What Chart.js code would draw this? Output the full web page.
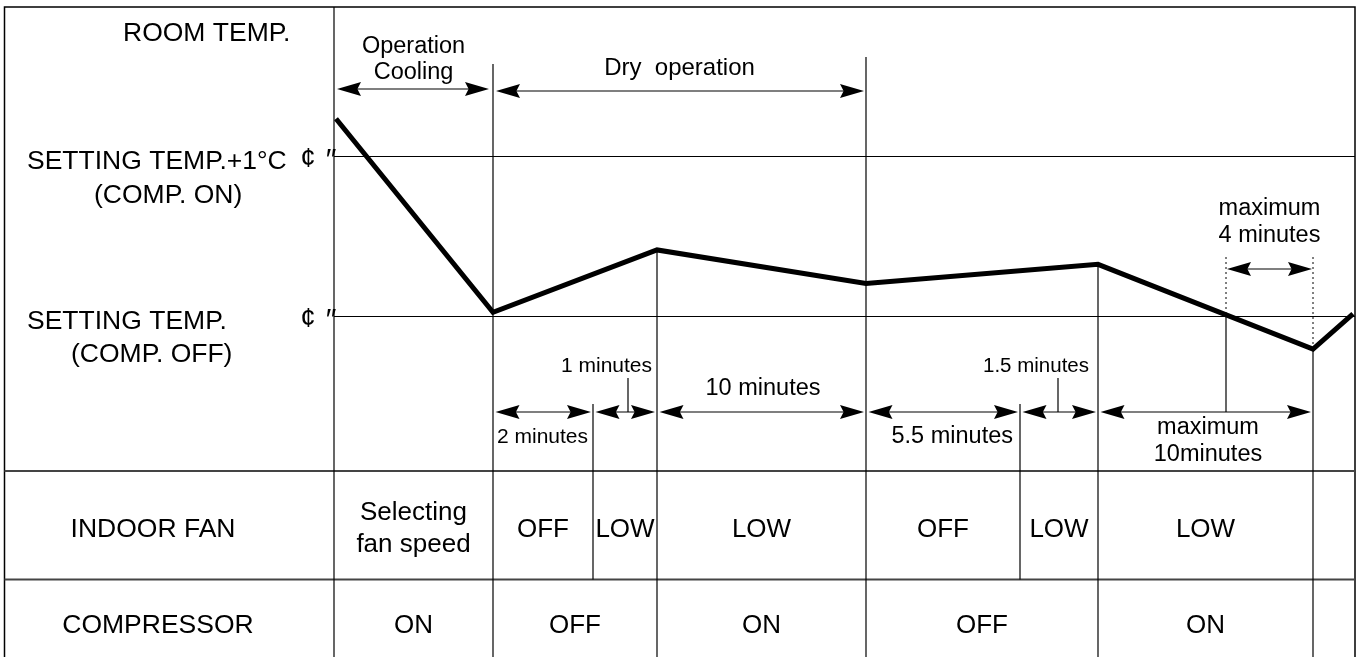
<!DOCTYPE html>
<html>
<head>
<meta charset="utf-8">
<title>Dry operation</title>
<script src="https://cdn.jsdelivr.net/npm/chart.js@4"></script>
<style>
  body { margin: 0; background: #fff; }
  canvas { display: block; }
</style>
</head>
<body>
<canvas id="myChart" width="1362" height="657"></canvas>
<script>
// time runs along x in diagram units (the drawing is not to scale),
// room temperature is in °C above the setting temperature
var tempTime = [33.6, 49.3, 65.7, 86.6, 109.8, 131.3, 135.3];
var roomTemp = [1.23, 0.02, 0.41, 0.20, 0.32, -0.21, 0.01];

var levelTemps = [1, 0];
var levelLabels = [['SETTING TEMP.+1°C', '(COMP. ON)'], ['SETTING TEMP.', '(COMP. OFF)']];

var phaseEdges = [33.4, 49.3, 86.6];
var phaseLabels = [['Operation', 'Cooling'], ['Dry  operation']];

var durEdges = [49.3, 59.3, 65.7, 86.6, 102.0, 109.8, 131.3];
var durLabels = ['2 minutes', '1 minutes', '10 minutes', '5.5 minutes', '1.5 minutes', ['maximum', '10minutes']];

var limitEdges = [122.6, 131.3];
var limitLabel = ['maximum', '4 minutes'];

var rowLabels = ['INDOOR FAN', 'COMPRESSOR'];
var fanEdges = [33.4, 49.3, 59.3, 65.7, 86.6, 102.0, 109.8, 131.3];
var fanLabels = [['Selecting', 'fan speed'], 'OFF', 'LOW', 'LOW', 'OFF', 'LOW', 'LOW'];
var compEdges = [33.4, 49.3, 65.7, 86.6, 109.8, 131.3];
var compLabels = ['ON', 'OFF', 'ON', 'OFF', 'ON'];

var xEnd = 135.5;

var points = [];
for (let i = 0; i < tempTime.length; i++) {
    points.push({x: tempTime[i], y: roomTemp[i]});
}

var FONT = '"Liberation Sans", Arial, sans-serif';

function text(ctx, s, x, y, size, align) {
    ctx.font = size + 'px ' + FONT;
    ctx.textAlign = align || 'center';
    ctx.textBaseline = 'alphabetic';
    ctx.fillText(s, x, y);
}

function vline(ctx, x, y1, y2) {
    ctx.beginPath();
    ctx.moveTo(x, y1);
    ctx.lineTo(x, y2);
    ctx.stroke();
}

function hline(ctx, x1, x2, y) {
    ctx.beginPath();
    ctx.moveTo(x1, y);
    ctx.lineTo(x2, y);
    ctx.stroke();
}

function head(ctx, tipX, y, dir) {
    var len = 24, half = 7;
    ctx.beginPath();
    ctx.moveTo(tipX, y);
    ctx.lineTo(tipX + dir * len, y - half);
    ctx.lineTo(tipX + dir * len * 0.85, y);
    ctx.lineTo(tipX + dir * len, y + half);
    ctx.closePath();
    ctx.fill();
}

function arrow(ctx, x1, x2, y) {
    hline(ctx, x1 + 10, x2 - 10, y);
    head(ctx, x1, y, 1);
    head(ctx, x2, y, -1);
}

var diagram = {
    id: 'diagram',
    beforeDraw: function (chart) {
        var ctx = chart.ctx;
        ctx.save();
        ctx.fillStyle = '#fff';
        ctx.fillRect(0, 0, chart.width, chart.height);
        ctx.restore();
    },
    beforeDatasetsDraw: function (chart) {
        var ctx = chart.ctx;
        var xs = chart.scales.x, ys = chart.scales.y;
        var X = function (v) { return xs.getPixelForValue(v); };
        var Y = function (v) { return ys.getPixelForValue(v); };
        var left = 4.5, top = 7, right = X(xEnd), bottom = chart.height;
        var row1 = 471, row2 = 579.5, durRow = 412;

        ctx.save();
        ctx.strokeStyle = '#000';
        ctx.fillStyle = '#000';

        // frame
        ctx.lineWidth = 1.5;
        ctx.beginPath();
        ctx.moveTo(left, bottom);
        ctx.lineTo(left, top);
        ctx.lineTo(right, top);
        ctx.lineTo(right, bottom);
        ctx.stroke();

        // temperature levels
        ctx.lineWidth = 1.2;
        for (let i = 0; i < levelTemps.length; i++) {
            hline(ctx, X(phaseEdges[0]), right, Math.round(Y(levelTemps[i])) + 0.5);
        }

        // table rows
        ctx.strokeStyle = '#444';
        ctx.lineWidth = 2;
        hline(ctx, left, right, row1);
        hline(ctx, left, right, row2);

        // phase and step borders
        ctx.strokeStyle = '#000';
        ctx.lineWidth = 1.2;
        vline(ctx, X(phaseEdges[0]), top, bottom);
        vline(ctx, X(phaseEdges[1]), 64, bottom);
        vline(ctx, X(phaseEdges[2]), 57, bottom);
        // fan-only steps
        vline(ctx, X(fanEdges[2]), 404, row2);
        vline(ctx, X(fanEdges[5]), 404, row2);
        // steps that start on the temperature curve
        vline(ctx, X(tempTime[2]), Y(roomTemp[2]), bottom);
        vline(ctx, X(tempTime[4]), Y(roomTemp[4]), bottom);
        vline(ctx, X(tempTime[5]), Y(roomTemp[5]), bottom);
        vline(ctx, X(limitEdges[0]), Y(0), durRow);

        // the 4 minute window
        ctx.setLineDash([2, 3]);
        ctx.lineWidth = 1;
        vline(ctx, X(limitEdges[0]), 257, Y(0));
        vline(ctx, X(limitEdges[1]), 257, Y(roomTemp[5]));
        ctx.setLineDash([]);
        ctx.restore();
    },
    afterDatasetsDraw: function (chart) {
        var ctx = chart.ctx;
        var xs = chart.scales.x, ys = chart.scales.y;
        var X = function (v) { return xs.getPixelForValue(v); };
        var Y = function (v) { return ys.getPixelForValue(v); };
        var durRow = 412;

        ctx.save();
        ctx.strokeStyle = '#000';
        ctx.fillStyle = '#000';
        ctx.lineWidth = 1.2;

        // left labels
        text(ctx, 'ROOM TEMP.', 123, 41, 26.5, 'left');
        text(ctx, levelLabels[0][0], 27, 169, 26.5, 'left');
        text(ctx, levelLabels[0][1], 94, 203, 26.5, 'left');
        text(ctx, levelLabels[1][0], 27, 329, 26.5, 'left');
        text(ctx, levelLabels[1][1], 71, 362, 26.5, 'left');
        for (let i = 0; i < levelTemps.length; i++) {
            var ly = Y(levelTemps[i]) + 11;
            text(ctx, '¢', 308, ly, 27, 'center');
            text(ctx, '″', 331, ly + 2, 30, 'center');
        }

        // phases
        var cx = (X(phaseEdges[0]) + X(phaseEdges[1])) / 2;
        text(ctx, phaseLabels[0][0], cx, 53, 23.5);
        text(ctx, phaseLabels[0][1], cx, 79, 23.5);
        arrow(ctx, X(phaseEdges[0]) + 3, X(phaseEdges[1]) - 4, 89);
        text(ctx, phaseLabels[1][0], (X(phaseEdges[1]) + X(phaseEdges[2])) / 2, 75, 24);
        arrow(ctx, X(phaseEdges[1]) + 3, X(phaseEdges[2]) - 2, 91);

        // step durations
        for (let i = 0; i < durLabels.length; i++) {
            arrow(ctx, X(durEdges[i]) + 2.5, X(durEdges[i + 1]) - 2, durRow);
        }
        var place = [
            {x: 497, y: 443, size: 21, align: 'left'},
            {x: 652, y: 372, size: 21, align: 'right'},
            {x: 763, y: 395, size: 23.5, align: 'center'},
            {x: 1013, y: 443, size: 23.5, align: 'right'},
            {x: 1089, y: 372, size: 20.5, align: 'right'},
            {x: 1208, y: 434, size: 23.5, align: 'center'}
        ];
        for (let i = 0; i < durLabels.length; i++) {
            var p = place[i], lab = durLabels[i];
            if (Array.isArray(lab)) {
                text(ctx, lab[0], p.x, p.y, p.size, p.align);
                text(ctx, lab[1], p.x, p.y + 26.5, p.size, p.align);
            } else {
                text(ctx, lab, p.x, p.y, p.size, p.align);
            }
        }
        // leaders for the short steps
        vline(ctx, (X(durEdges[1]) + X(durEdges[2])) / 2 + 3, 378, durRow);
        vline(ctx, (X(durEdges[4]) + X(durEdges[5])) / 2 - 1, 378, durRow);

        // maximum 4 minutes
        arrow(ctx, X(limitEdges[0]) + 1, X(limitEdges[1]) - 1, 269);
        var mx = (X(limitEdges[0]) + X(limitEdges[1])) / 2;
        text(ctx, limitLabel[0], mx, 215, 23.5);
        text(ctx, limitLabel[1], mx, 241.5, 23.5);

        // table
        text(ctx, rowLabels[0], 153, 537, 26.5);
        text(ctx, rowLabels[1], 158, 633, 26.5);
        for (let i = 0; i < fanLabels.length; i++) {
            var fx = (X(fanEdges[i]) + X(fanEdges[i + 1])) / 2;
            if (Array.isArray(fanLabels[i])) {
                text(ctx, fanLabels[i][0], fx, 520, 26);
                text(ctx, fanLabels[i][1], fx, 552, 26);
            } else {
                text(ctx, fanLabels[i], fx, 537, 26);
            }
        }
        for (let i = 0; i < compLabels.length; i++) {
            text(ctx, compLabels[i], (X(compEdges[i]) + X(compEdges[i + 1])) / 2, 633, 26);
        }
        ctx.restore();
    }
};

var ctx = document.getElementById('myChart').getContext('2d');
var myChart = new Chart(ctx, {
    type: 'line',
    data: {
        datasets: [{
            label: 'ROOM TEMP.',
            data: points,
            borderColor: '#000',
            borderWidth: 5,
            borderJoinStyle: 'miter',
            pointRadius: 0,
            tension: 0,
            fill: false
        }]
    },
    options: {
        responsive: false,
        animation: false,
        layout: {padding: 0},
        plugins: {
            legend: {display: false},
            tooltip: {enabled: false}
        },
        scales: {
            x: {type: 'linear', display: false, min: 0, max: 136.2},
            y: {type: 'linear', display: false, min: -2.134, max: 1.972}
        }
    },
    plugins: [diagram]
});
</script>
</body>
</html>
